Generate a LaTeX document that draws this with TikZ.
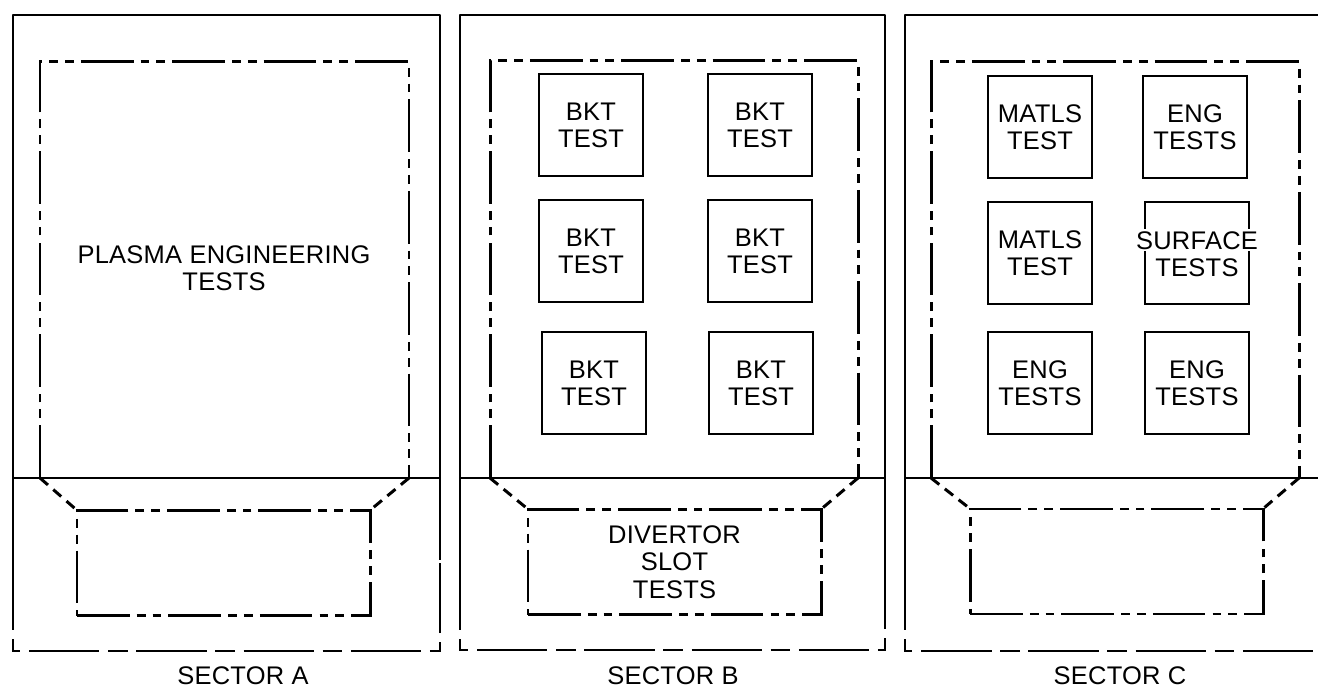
\documentclass[tikz,border=0pt]{standalone}
\usepackage{fontspec}
\setmainfont{Liberation Sans}[LetterSpace=1]
\usetikzlibrary{positioning}
\newcommand{\sectfont}{\fontsize{14.5}{15.5}\selectfont}
\tikzset{
    frame/.style={line width=1.6pt, line join=round},
    framedash/.style={line width=1.6pt, dash pattern=on 40pt off 5pt on 11pt off 5pt},
    phantom/.style={line width=1.7pt, dash pattern=on 30pt off 4pt on 5pt off 4pt on 5pt off 4pt},
    slotdash/.style={line width=1.7pt, dash pattern=on 6pt off 4pt},
    caption/.style={font=\sectfont, inner sep=0pt}
}

\begin{document}
\begin{tikzpicture}[
    x=0.2mm, y=-0.2mm,
    testbox/.style={rectangle, draw=black, line width=1.6pt, align=center, minimum width=2.08cm, minimum height=2.04cm, font=\sectfont, inner sep=0pt},
    slotbox/.style={rectangle, draw=black, phantom, align=center, minimum width=5.86cm, minimum height=2.1cm, font=\sectfont, inner sep=0pt},
    plain/.style={align=center, font=\sectfont, inner sep=0pt}
]
    \useasboundingbox (0,0) rectangle (1318,690);

    % sector A
    \draw[frame] (13,560) -- (13,15) -- (440,15) -- (440,560);
    \draw[framedash] (13,560) -- (13,651) -- (440,651) -- (440,560);
    \draw[frame] (13,478) -- (440,478);
    \coordinate (inA1) at (40,478);
    \coordinate (inA2) at (409,478);
    \draw[phantom] (inA1) -- (40,62) -- (409,62) -- (inA2);
    \node[plain] (plasma) at (224,268) {PLASMA ENGINEERING\\TESTS};
    \node[slotbox] (slotA) at (223.5,563) {};
    \draw[slotdash] (inA1) -- (slotA.north west);
    \draw[slotdash] (inA2) -- (slotA.north east);
    \node[caption] (secA) at (243,676) {SECTOR A};

    % sector B
    \draw[frame] (460,560) -- (460,15) -- (885,15) -- (885,560);
    \draw[framedash] (460,560) -- (460,650) -- (885,650) -- (885,560);
    \draw[frame] (460,478) -- (885,478);
    \coordinate (inB1) at (490,478);
    \coordinate (inB2) at (858,478);
    \draw[phantom] (inB1) -- (490,61) -- (858,61) -- (inB2);
    \node[testbox] (b11) at (591,125) {BKT\\TEST};
    \node[testbox] (b12) at (760,125) {BKT\\TEST};
    \node[testbox] (b21) at (591,251) {BKT\\TEST};
    \node[testbox] (b22) at (760,251) {BKT\\TEST};
    \node[testbox] (b31) at (594,383) {BKT\\TEST};
    \node[testbox] (b32) at (761,383) {BKT\\TEST};
    \node[slotbox] (slotB) at (674.5,562) {DIVERTOR\\SLOT\\TESTS};
    \draw[slotdash] (inB1) -- (slotB.north west);
    \draw[slotdash] (inB2) -- (slotB.north east);
    \node[caption] (secB) at (673,676) {SECTOR B};

    % sector C
    \draw[frame] (905,560) -- (905,15) -- (1318,15);
    \draw[framedash] (905,560) -- (905,651) -- (1318,651);
    \draw[frame] (905,478) -- (1318,478);
    \coordinate (inC1) at (931,478);
    \coordinate (inC2) at (1299,478);
    \draw[phantom] (inC1) -- (931,62) -- (1299,62) -- (inC2);
    \node[testbox] (c11) at (1040,127) {MATLS\\TEST};
    \node[testbox] (c12) at (1195,127) {ENG\\TESTS};
    \node[testbox] (c21) at (1040,253) {MATLS\\TEST};
    \node[testbox] (c22) at (1197,253) {\makebox[0pt]{\setlength{\fboxsep}{1pt}\colorbox{white}{SURFACE}}\\TESTS};
    \node[testbox] (c31) at (1040,383) {ENG\\TESTS};
    \node[testbox] (c32) at (1197,383) {ENG\\TESTS};
    \node[slotbox] (slotC) at (1116.5,561.5) {};
    \draw[slotdash] (inC1) -- (slotC.north west);
    \draw[slotdash] (inC2) -- (slotC.north east);
    \node[caption] (secC) at (1120,676) {SECTOR C};
\end{tikzpicture}
\end{document}
